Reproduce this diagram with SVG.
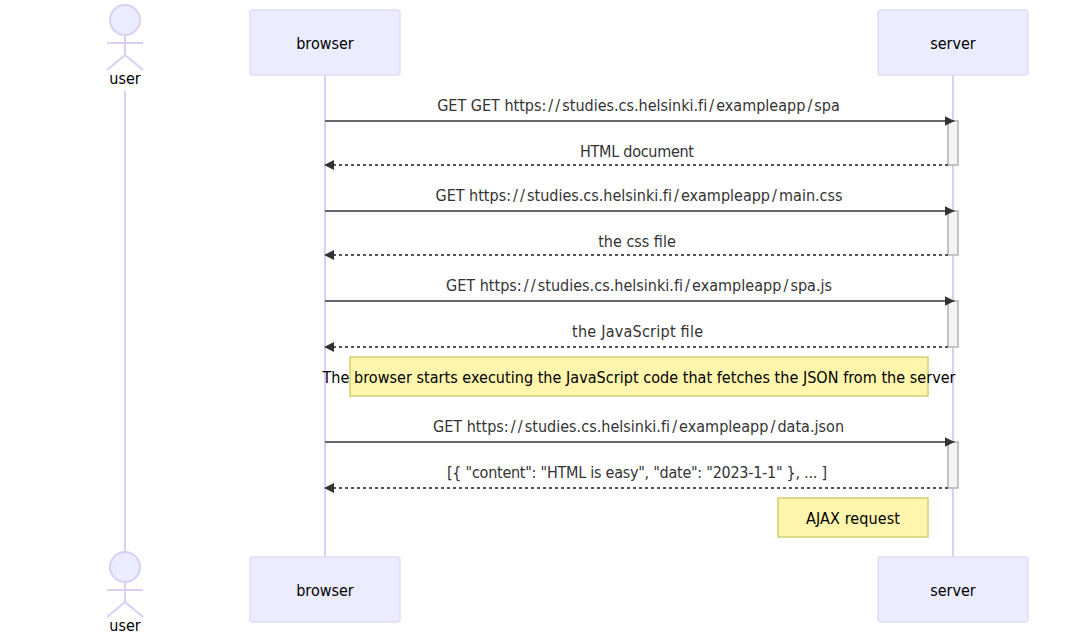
<svg xmlns="http://www.w3.org/2000/svg" width="1078" height="633" viewBox="0 0 1078 633">
<style>
text{font-family:"DejaVu Sans Condensed","DejaVu Sans",sans-serif;font-size:16px;text-anchor:middle}
.actor{fill:#ececff;stroke:#e3dcf6;stroke-width:1.5}
.fig{fill:none;stroke:#dacef3;stroke-width:2}
.head{fill:#ececff;stroke:#dacef3;stroke-width:2}
.life{stroke:#dacef3;stroke-width:2;fill:none}
.act{fill:#f4f4f4;stroke:#b3b3b3;stroke-width:1.5}
.msg{stroke:#666;stroke-width:2;fill:none}
.dash{stroke:#555;stroke-width:2;stroke-dasharray:3 3;fill:none}
.lab{fill:#333}
.note{fill:#fff5ad;stroke:#d2cf70;stroke-width:1.5}
.nt{fill:#000}
.at{fill:#000}
.s{letter-spacing:2.1px}
</style>
<defs>
<marker id="arrow" markerUnits="userSpaceOnUse" markerWidth="12" markerHeight="12" refX="10" refY="6" orient="auto"><path d="M0 1 L10 6 L0 11 Z" fill="#333"/></marker>
</defs>
<g id="lifelines">
<path class="life" d="M125 91V552"/>
<path class="life" d="M325 75V557"/>
<path class="life" d="M953 75V557"/>
</g>
<g id="activations">
<rect class="act" x="948" y="121" width="10" height="44"/>
<rect class="act" x="948" y="211" width="10" height="44"/>
<rect class="act" x="948" y="301" width="10" height="46"/>
<rect class="act" x="948" y="442" width="10" height="46"/>
</g>
<g id="connectors">
<path class="msg" d="M325 121H954.5" marker-end="url(#arrow)"/>
<path class="dash" d="M948 165H324" marker-end="url(#arrow)"/>
<path class="msg" d="M325 211H954.5" marker-end="url(#arrow)"/>
<path class="dash" d="M948 255H324" marker-end="url(#arrow)"/>
<path class="msg" d="M325 301H954.5" marker-end="url(#arrow)"/>
<path class="dash" d="M948 347H324" marker-end="url(#arrow)"/>
<path class="msg" d="M325 442H954.5" marker-end="url(#arrow)"/>
<path class="dash" d="M948 488H324" marker-end="url(#arrow)"/>
</g>
<g id="labels">
<text class="lab" x="638.5" y="111">GET GET https<tspan class="s">://</tspan>studies.cs.helsinki.f<tspan class="s">i/</tspan>exampleap<tspan class="s">p/</tspan>spa</text>
<text class="lab" x="637" y="157" textLength="114">HTML document</text>
<text class="lab" x="639" y="201">GET https<tspan class="s">://</tspan>studies.cs.helsinki.f<tspan class="s">i/</tspan>exampleap<tspan class="s">p/</tspan>main.css</text>
<text class="lab" x="637" y="247">the css file</text>
<text class="lab" x="639" y="291" textLength="386">GET https<tspan class="s">://</tspan>studies.cs.helsinki.f<tspan class="s">i/</tspan>exampleap<tspan class="s">p/</tspan>spa.js</text>
<text class="lab" x="637.5" y="337" textLength="131">the JavaScript file</text>
<text class="lab" x="638.5" y="432" textLength="411">GET https<tspan class="s">://</tspan>studies.cs.helsinki.f<tspan class="s">i/</tspan>exampleap<tspan class="s">p/</tspan>data.json</text>
<text class="lab" x="637" y="478" textLength="380">[{ "content": "HTML is easy", "date": "2023-1-1" }, ... ]</text>
</g>
<g id="note-1">
<rect class="note" x="350" y="357" width="578" height="39"/>
<text class="nt" x="639" y="383" textLength="633">The browser starts executing the JavaScript code that fetches the JSON from the server</text>
</g>
<g id="note-2">
<rect class="note" x="778" y="498" width="150" height="39"/>
<text class="nt" x="853" y="524" textLength="94">AJAX request</text>
</g>
<g id="user-top">
<circle class="head" cx="125" cy="20" r="15"/>
<path class="fig" d="M125 35V55M107 43H143M125 55L107 70M125 55L143 70"/>
<text class="at" x="125" y="84">user</text>
</g>
<g id="browser-top">
<rect class="actor" x="250" y="10" width="150" height="65" rx="3"/>
<text class="at" x="325" y="48.5">browser</text>
</g>
<g id="server-top">
<rect class="actor" x="878" y="10" width="150" height="65" rx="3"/>
<text class="at" x="953" y="48.5">server</text>
</g>
<g id="user-bottom">
<circle class="head" cx="125" cy="567" r="15"/>
<path class="fig" d="M125 582V602M107 590H143M125 602L107 617M125 602L143 617"/>
<text class="at" x="125" y="631">user</text>
</g>
<g id="browser-bottom">
<rect class="actor" x="250" y="557" width="150" height="65" rx="3"/>
<text class="at" x="325" y="595.5">browser</text>
</g>
<g id="server-bottom">
<rect class="actor" x="878" y="557" width="150" height="65" rx="3"/>
<text class="at" x="953" y="595.5">server</text>
</g>
</svg>
